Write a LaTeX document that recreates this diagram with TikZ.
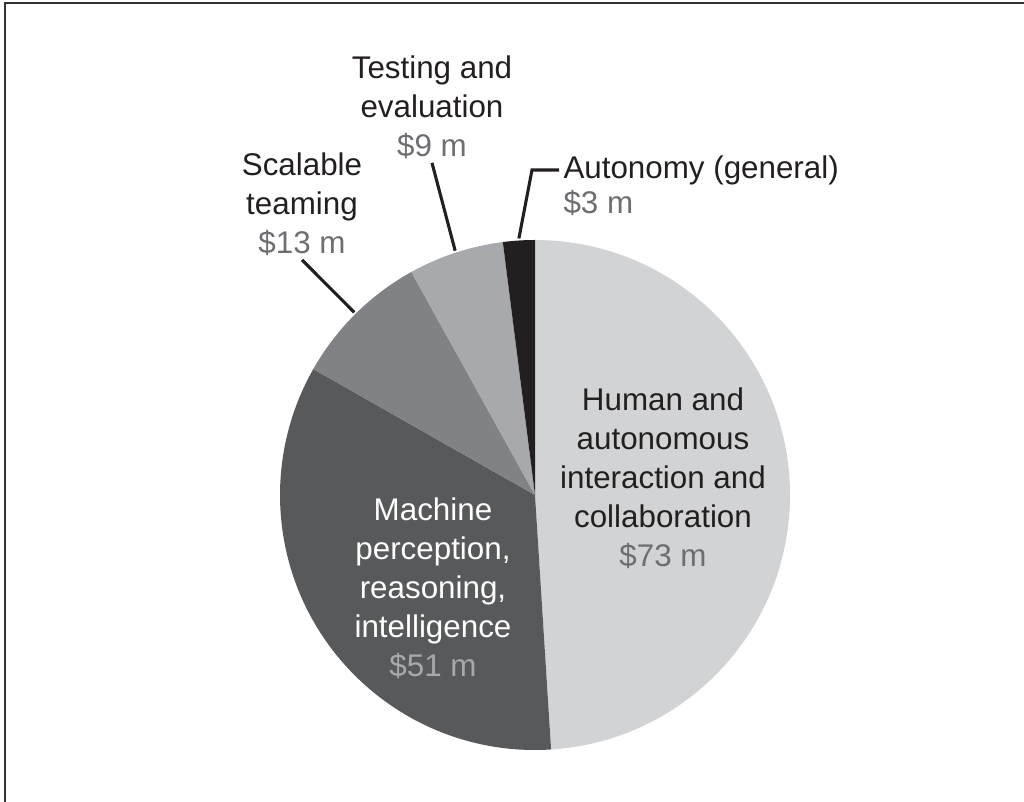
\documentclass[tikz,border=0pt]{standalone}
\usepackage{fontspec}
\setmainfont{Liberation Sans}
\usetikzlibrary{positioning}
\definecolor{humgray}{HTML}{D1D3D4}
\definecolor{machgray}{HTML}{58595B}
\definecolor{scalgray}{HTML}{808285}
\definecolor{testgray}{HTML}{A7A9AC}
\definecolor{autoblack}{HTML}{231F20}
\definecolor{valgray}{HTML}{6D6E71}
\definecolor{machval}{HTML}{A7A9AC}
\definecolor{framegray}{HTML}{333333}
\tikzset{
  lbl/.style={align=center,font=\fontsize{22.3}{27.7}\selectfont,text=autoblack,inner sep=3pt},
  leader/.style={line width=2.2pt,autoblack}
}

\begin{document}
\begin{tikzpicture}[x=0.25mm,y=0.25mm]
  \useasboundingbox (-535,-307) rectangle (489,495);
  % Frame
  \draw[line width=1.2pt,framegray] (489,492) -- (-530,492) -- (-530,-307);

  % Slices
  \fill[humgray] (0,0) -- (90:255) arc[start angle=90, end angle=-86.38, radius=255] -- cycle;
  \fill[machgray] (0,0) -- (-86.38:255) arc[start angle=-86.38, end angle=-209.6, radius=255] -- cycle;
  \fill[scalgray] (0,0) -- (150.4:255) arc[start angle=150.4, end angle=119.0, radius=255] -- cycle;
  \fill[testgray] (0,0) -- (119.0:255) arc[start angle=119.0, end angle=97.25, radius=255] -- cycle;
  \fill[autoblack] (0,0) -- (97.25:255) arc[start angle=97.25, end angle=90, radius=255] -- cycle;

  % Labels
  \node[lbl] (humlbl) at (128,17) {Human and\\autonomous\\interaction and\\collaboration\\\textcolor{valgray}{\$73 m}};
  \node[lbl,text=white] (machlbl) at (-102,-93) {Machine\\perception,\\reasoning,\\intelligence\\\textcolor{machval}{\$51 m}};
  \node[lbl] (scallbl) at (-233,291) {Scalable\\teaming\\\textcolor{valgray}{\$13 m}};
  \node[lbl] (testlbl) at (-103,388) {Testing and\\evaluation\\\textcolor{valgray}{\$9 m}};
  \node[lbl,anchor=west] (autolbl) at (24,325) {Autonomy (general)};
  \node[lbl,text=valgray,below=8.75mm of autolbl.base west,anchor=base west] (autoval) {\$3 m};

  % Leaders
  \coordinate (scalrim) at (134.7:257);
  \coordinate (testrim) at (108.1:257);
  \coordinate (autorim) at (93.6:257);
  \coordinate (autobend) at (-3,325);
  \draw[leader] (scallbl.south) -- (scalrim);
  \draw[leader] (testlbl.south) -- (testrim);
  \draw[leader] (autorim) -- (autobend) -- (autobend -| autolbl.west);
\end{tikzpicture}
\end{document}
